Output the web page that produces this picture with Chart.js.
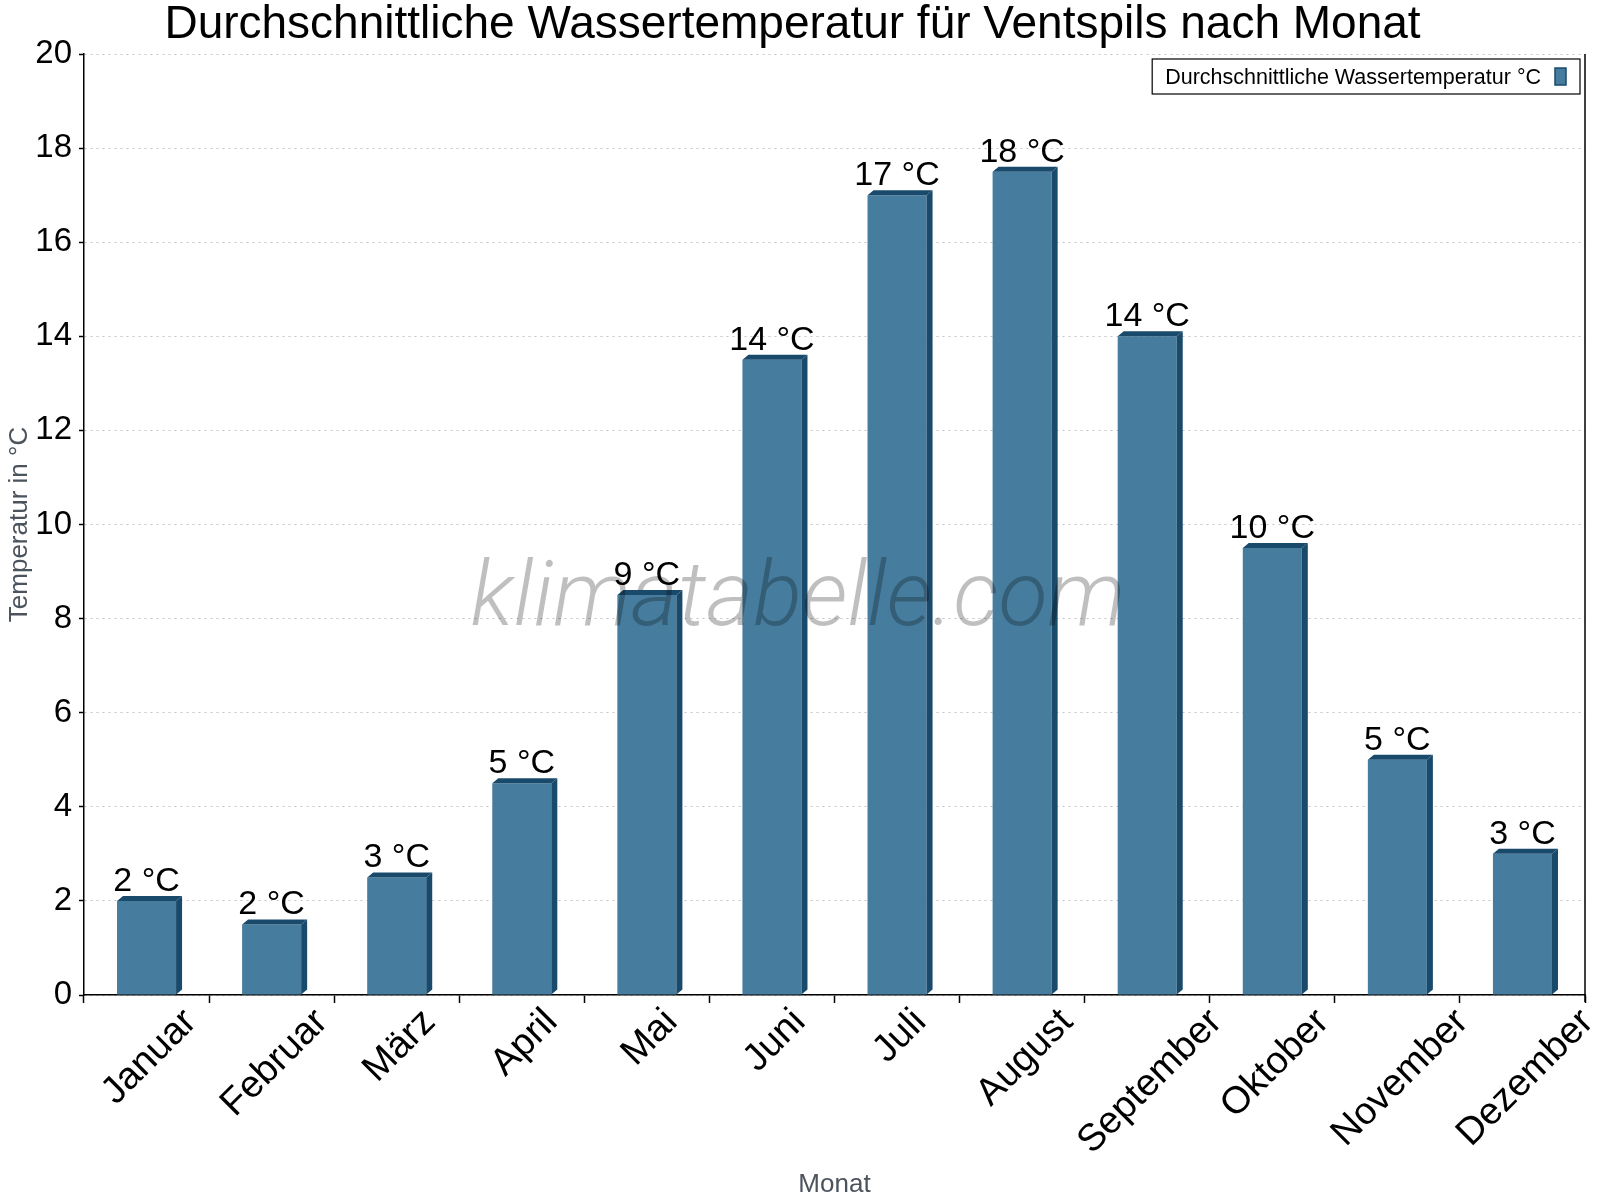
<!DOCTYPE html>
<html>
<head>
<meta charset="utf-8">
<script src="https://cdn.jsdelivr.net/npm/chart.js@4/dist/chart.umd.min.js"></script>
<style>
  html, body { margin: 0; padding: 0; background: #fff; }
  #wrap { width: 1600px; height: 1200px; }
</style>
</head>
<body>
<div id="wrap"><canvas id="chart" width="1600" height="1200"></canvas></div>
<script>
// daten
const monate = ['Januar', 'Februar', 'März', 'April', 'Mai', 'Juni', 'Juli', 'August', 'September', 'Oktober', 'November', 'Dezember'];
const wassertemperatur = [2, 1.5, 2.5, 4.5, 8.5, 13.5, 17, 17.5, 14, 9.5, 5, 3];
const serienName = 'Durchschnittliche Wassertemperatur °C';
const yTicks = [0, 2, 4, 6, 8, 10, 12, 14, 16, 18, 20];

const FONT = "'Liberation Sans', Arial, sans-serif";
const FRONT = '#467c9e';
const DARK = '#1a4a6b';

Chart.defaults.font.family = FONT;
Chart.defaults.color = '#000';

// 3D-Seiten, Werte, Wasserzeichen, Legende und x-Beschriftung
const extras = {
    id: 'extras',
    afterDatasetsDraw(chart) {
        const ctx = chart.ctx;
        const meta = chart.getDatasetMeta(0);
        const dx = 6, dy = 5;

        meta.data.forEach(bar => {
            const l = bar.x - bar.width / 2;
            const r = bar.x + bar.width / 2;
            const t = bar.y;
            const b = bar.base;
            ctx.save();
            ctx.fillStyle = DARK;
            // seite
            ctx.beginPath();
            ctx.moveTo(r, t);
            ctx.lineTo(r + dx, t - dy);
            ctx.lineTo(r + dx, b - dy);
            ctx.lineTo(r, b);
            ctx.closePath();
            ctx.fill();
            // deckel
            ctx.beginPath();
            ctx.moveTo(l, t);
            ctx.lineTo(l + dx, t - dy);
            ctx.lineTo(r + dx, t - dy);
            ctx.lineTo(r, t);
            ctx.closePath();
            ctx.fill();
            ctx.restore();
        });

        // wasserzeichen
        ctx.save();
        ctx.font = 'italic 300 90px Roboto';
        const ww = ctx.measureText('klimatabelle.com').width;
        ctx.translate(798, 625);
        ctx.scale(655 / ww, 1);
        ctx.fillStyle = 'rgba(0,0,0,0.25)';
        ctx.textAlign = 'center';
        ctx.textBaseline = 'alphabetic';
        ctx.fillText('klimatabelle.com', 0, 0);
        ctx.restore();

        // werte über den balken
        ctx.save();
        ctx.font = '34px ' + FONT;
        ctx.fillStyle = '#000';
        ctx.textAlign = 'center';
        ctx.textBaseline = 'alphabetic';
        meta.data.forEach((bar, i) => {
            ctx.fillText(Math.round(wassertemperatur[i]) + ' °C', bar.x, bar.y - 10);
        });
        ctx.restore();
    },
    afterDraw(chart) {
        const ctx = chart.ctx;
        const area = chart.chartArea;
        const xs = chart.scales.x;

        // rechte linie
        ctx.save();
        ctx.strokeStyle = '#000';
        ctx.lineWidth = 1.5;
        ctx.beginPath();
        ctx.moveTo(area.right, area.top);
        ctx.lineTo(area.right, area.bottom + 7);
        ctx.stroke();
        ctx.restore();

        // legende
        ctx.save();
        ctx.font = '21.5px ' + FONT;
        const label = chart.data.datasets[0].label;
        const tw = ctx.measureText(label).width;
        const boxR = area.right - 5;
        const boxW = tw + 52;
        const boxL = boxR - boxW;
        const boxT = area.top + 5;
        const boxH = 35;
        ctx.fillStyle = '#fff';
        ctx.fillRect(boxL, boxT, boxW, boxH);
        ctx.strokeStyle = '#000';
        ctx.lineWidth = 1.2;
        ctx.strokeRect(boxL, boxT, boxW, boxH);
        ctx.fillStyle = '#000';
        ctx.textBaseline = 'alphabetic';
        ctx.fillText(label, boxL + 13, boxT + 25);
        ctx.fillStyle = FRONT;
        ctx.fillRect(boxR - 25, boxT + 9, 11, 17);
        ctx.strokeStyle = DARK;
        ctx.lineWidth = 1.5;
        ctx.strokeRect(boxR - 25, boxT + 9, 11, 17);
        ctx.restore();

        // monatsnamen, gedreht und mittig
        ctx.save();
        ctx.font = '38px ' + FONT;
        ctx.fillStyle = '#000';
        ctx.textAlign = 'center';
        ctx.textBaseline = 'middle';
        monate.forEach((m, i) => {
            const x = xs.getPixelForValue(i);
            const w = ctx.measureText(m).width;
            const y = xs.top + 12 + (w + 26) * 0.3536;
            ctx.save();
            ctx.translate(x + 3, y);
            ctx.rotate(-Math.PI / 4);
            ctx.fillText(m, 0, 0);
            ctx.restore();
        });
        ctx.restore();
    }
};

new Chart(document.getElementById('chart').getContext('2d'), {
    type: 'bar',
    data: {
        labels: monate,
        datasets: [{
            label: serienName,
            data: wassertemperatur,
            backgroundColor: FRONT,
            borderWidth: 0,
            categoryPercentage: 1,
            barPercentage: 0.472
        }]
    },
    options: {
        responsive: false,
        animation: false,
        layout: { padding: { left: 0, right: 15, top: 0, bottom: 0 } },
        plugins: {
            legend: { display: false },
            tooltip: { enabled: false },
            title: {
                display: true,
                text: 'Durchschnittliche Wassertemperatur für Ventspils nach Monat',
                color: '#000',
                font: { size: 46, weight: 'normal', lineHeight: 1 },
                padding: { top: 2, bottom: 6 }
            }
        },
        scales: {
            x: {
                grid: {
                    display: true,
                    offset: true,
                    drawOnChartArea: false,
                    drawTicks: true,
                    tickLength: 8,
                    tickColor: '#000',
                    tickWidth: 1.5
                },
                border: { display: true, color: '#000', width: 1.5 },
                ticks: { display: false },
                title: {
                    display: true,
                    text: 'Monat',
                    color: '#4b535c',
                    font: { size: 26 },
                    padding: { top: 0, bottom: 0 }
                },
                afterFit(scale) { scale.height = 205; }
            },
            y: {
                min: 0,
                max: 20,
                afterBuildTicks(scale) { scale.ticks = yTicks.map(v => ({ value: v })); },
                grid: {
                    color: '#c4c4c4',
                    lineWidth: 1,
                    drawTicks: true,
                    tickLength: 5,
                    tickColor: '#000',
                    tickWidth: 1.5,
                    tickBorderDash: []
                },
                border: { display: true, color: '#000', width: 1.5, dash: [2, 4] },
                ticks: { font: { size: 33 }, color: '#000', padding: 7 },
                title: {
                    display: true,
                    text: 'Temperatur in °C',
                    color: '#4b535c',
                    font: { size: 26 },
                    padding: { top: 4, bottom: 0 }
                },
                afterFit(scale) { scale.width = 84; }
            }
        }
    },
    plugins: [extras]
});
</script>
</body>
</html>
